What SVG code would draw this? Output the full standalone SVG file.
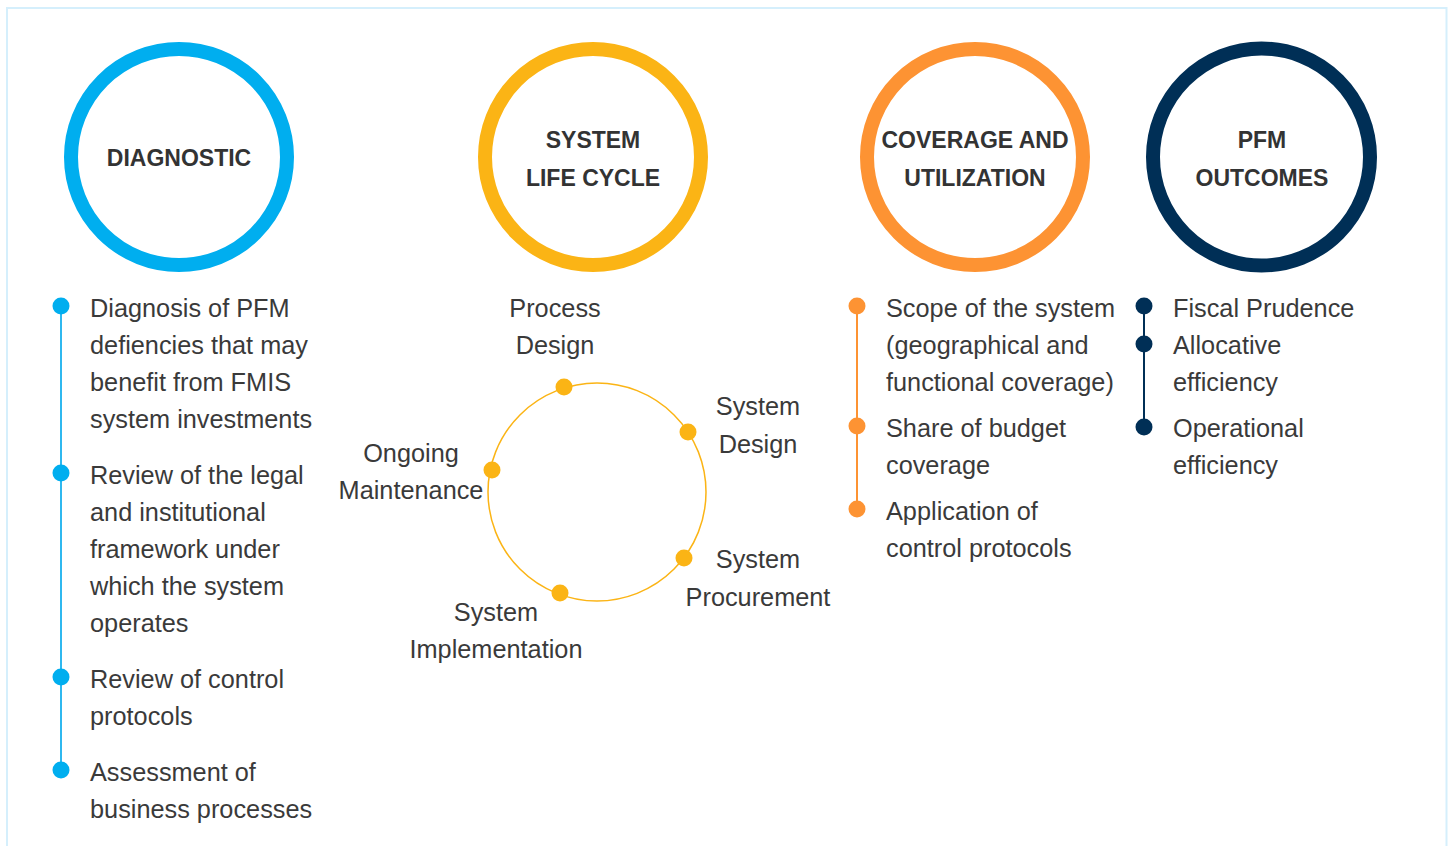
<svg xmlns="http://www.w3.org/2000/svg" width="1448" height="846" viewBox="0 0 1448 846">
  <style>
    .head { font-family: "Liberation Sans", Arial, sans-serif; font-weight: bold; font-size: 23px; fill: #333333; text-anchor: middle; }
    .body { font-family: "Liberation Sans", Arial, sans-serif; font-size: 25.3px; fill: #3a3a3a; }
    .mid { text-anchor: middle; }
    .ring { fill: #ffffff; stroke-width: 14; }
    .blue { fill: #00aeef; }
    .gold { fill: #fbb415; }
    .orange { fill: #fd9333; }
    .navy { fill: #002f56; }
  </style>

  <!-- frame -->
  <rect x="7" y="8" width="1439.5" height="850" fill="#ffffff" stroke="#d5effc" stroke-width="2"/>

  <!-- connectors: timeline rails and the life-cycle ring -->
  <g id="connectors" fill="none">
    <line x1="61" y1="306" x2="61" y2="770" stroke="#2fb8ef" stroke-width="2"/>
    <circle cx="597" cy="492" r="109" stroke="#fbb415" stroke-width="1.5"/>
    <line x1="857" y1="306" x2="857" y2="509" stroke="#fd9333" stroke-width="2"/>
    <line x1="1144" y1="306" x2="1144" y2="427" stroke="#002f56" stroke-width="2"/>
  </g>

  <!-- DIAGNOSTIC -->
  <g id="diagnostic">
    <circle class="ring" cx="179" cy="157" r="108" stroke="#00aeef"/>
    <text class="head" x="179" y="166">DIAGNOSTIC</text>
    <g class="blue">
      <circle cx="61" cy="306" r="8.5"/>
      <circle cx="61" cy="473" r="8.5"/>
      <circle cx="61" cy="677" r="8.5"/>
      <circle cx="61" cy="770" r="8.5"/>
    </g>
    <text class="body" x="90" y="317">Diagnosis of PFM</text>
    <text class="body" x="90" y="354">defiencies that may</text>
    <text class="body" x="90" y="391">benefit from FMIS</text>
    <text class="body" x="90" y="428">system investments</text>
    <text class="body" x="90" y="484">Review of the legal</text>
    <text class="body" x="90" y="521">and institutional</text>
    <text class="body" x="90" y="558">framework under</text>
    <text class="body" x="90" y="595">which the system</text>
    <text class="body" x="90" y="632">operates</text>
    <text class="body" x="90" y="688">Review of control</text>
    <text class="body" x="90" y="725">protocols</text>
    <text class="body" x="90" y="781">Assessment of</text>
    <text class="body" x="90" y="818">business processes</text>
  </g>

  <!-- SYSTEM LIFE CYCLE -->
  <g id="life-cycle">
    <circle class="ring" cx="593" cy="157" r="108" stroke="#fbb415"/>
    <text class="head" x="593" y="148">SYSTEM</text>
    <text class="head" x="593" y="186">LIFE CYCLE</text>
    <g class="gold">
      <circle cx="564" cy="387" r="8.5"/>
      <circle cx="688" cy="432" r="8.5"/>
      <circle cx="684" cy="558" r="8.5"/>
      <circle cx="560" cy="593" r="8.5"/>
      <circle cx="492" cy="470" r="8.5"/>
    </g>
    <text class="body mid" x="555" y="317">Process</text>
    <text class="body mid" x="555" y="354">Design</text>
    <text class="body mid" x="758" y="415">System</text>
    <text class="body mid" x="758" y="453">Design</text>
    <text class="body mid" x="758" y="568">System</text>
    <text class="body mid" x="758" y="606">Procurement</text>
    <text class="body mid" x="496" y="621">System</text>
    <text class="body mid" x="496" y="658">Implementation</text>
    <text class="body mid" x="411" y="462">Ongoing</text>
    <text class="body mid" x="411" y="499">Maintenance</text>
  </g>

  <!-- COVERAGE AND UTILIZATION -->
  <g id="coverage">
    <circle class="ring" cx="975" cy="157" r="108" stroke="#fd9333"/>
    <text class="head" x="975" y="148">COVERAGE AND</text>
    <text class="head" x="975" y="186">UTILIZATION</text>
    <g class="orange">
      <circle cx="857" cy="306" r="8.5"/>
      <circle cx="857" cy="426" r="8.5"/>
      <circle cx="857" cy="509" r="8.5"/>
    </g>
    <text class="body" x="886" y="317">Scope of the system</text>
    <text class="body" x="886" y="354">(geographical and</text>
    <text class="body" x="886" y="391">functional coverage)</text>
    <text class="body" x="886" y="437">Share of budget</text>
    <text class="body" x="886" y="474">coverage</text>
    <text class="body" x="886" y="520">Application of</text>
    <text class="body" x="886" y="557">control protocols</text>
  </g>

  <!-- PFM OUTCOMES -->
  <g id="outcomes">
    <circle class="ring" cx="1261.5" cy="157" r="108.5" stroke="#002f56"/>
    <text class="head" x="1262" y="148">PFM</text>
    <text class="head" x="1262" y="186">OUTCOMES</text>
    <g class="navy">
      <circle cx="1144" cy="306" r="8.5"/>
      <circle cx="1144" cy="344" r="8.5"/>
      <circle cx="1144" cy="427" r="8.5"/>
    </g>
    <text class="body" x="1173" y="317">Fiscal Prudence</text>
    <text class="body" x="1173" y="354">Allocative</text>
    <text class="body" x="1173" y="391">efficiency</text>
    <text class="body" x="1173" y="437">Operational</text>
    <text class="body" x="1173" y="474">efficiency</text>
  </g>
</svg>
